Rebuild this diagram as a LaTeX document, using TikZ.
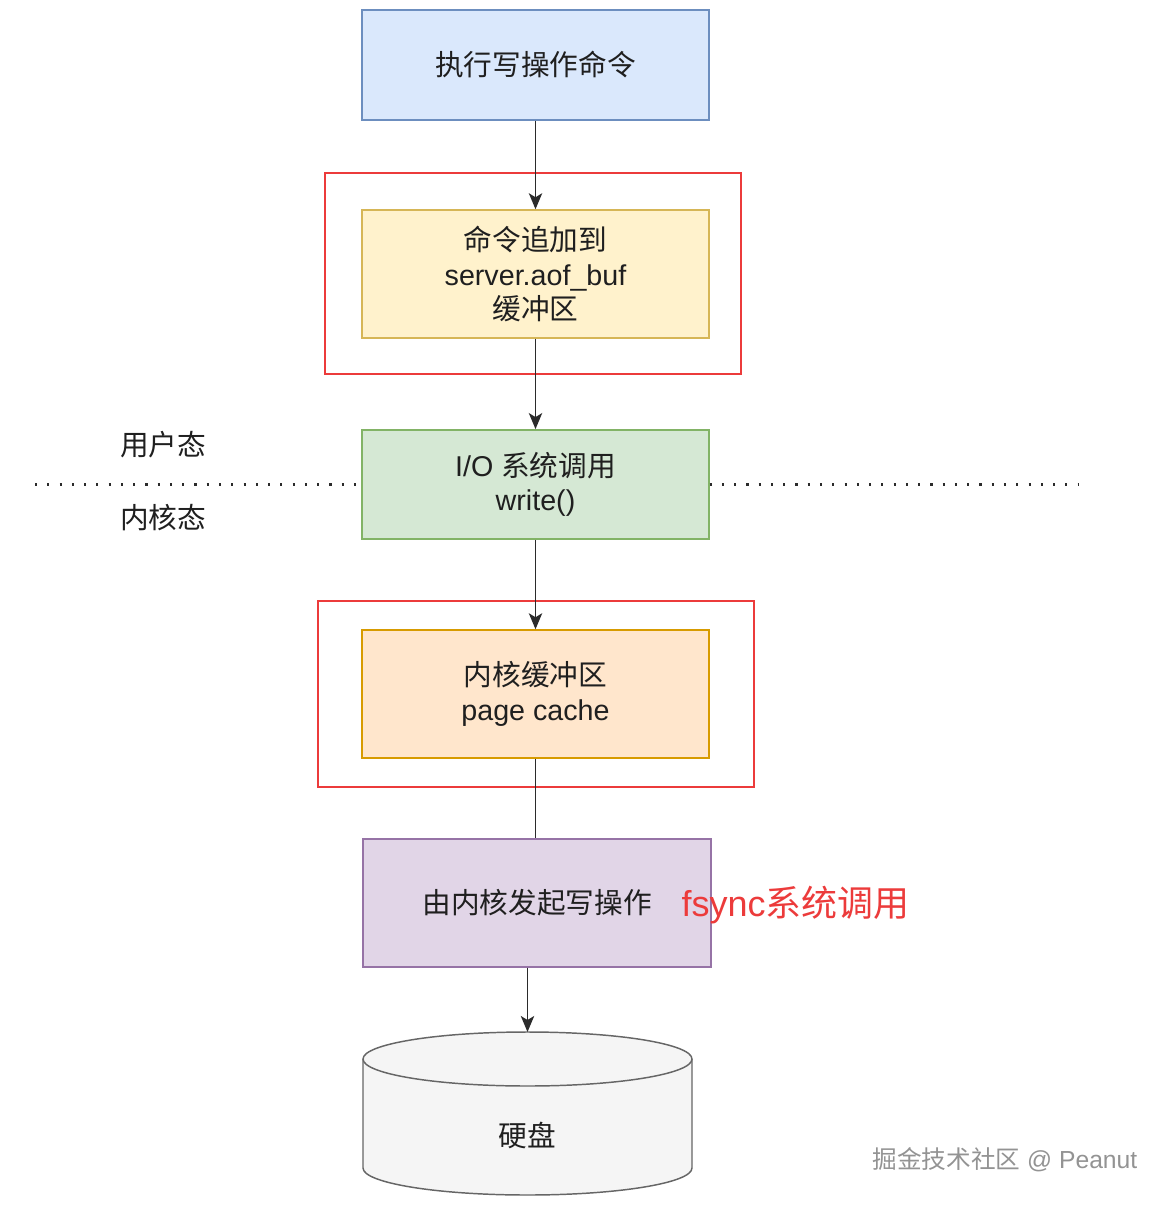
\documentclass[tikz,border=0pt]{standalone}
\usepackage{fontspec}
\setmainfont{Liberation Sans}
\newfontfamily\cjk{Noto Sans CJK SC}
\usetikzlibrary{arrows.meta}

\definecolor{inkc}{HTML}{1F1F1F}
\definecolor{linec}{HTML}{2B2B2B}
\definecolor{redc}{HTML}{EC3B3B}
\definecolor{bluef}{HTML}{DAE8FC}\definecolor{blued}{HTML}{6C8EBF}
\definecolor{yellowf}{HTML}{FFF2CC}\definecolor{yellowd}{HTML}{D6B656}
\definecolor{greenf}{HTML}{D5E8D4}\definecolor{greend}{HTML}{82B366}
\definecolor{orangef}{HTML}{FFE6CC}\definecolor{oranged}{HTML}{D79B00}
\definecolor{purplef}{HTML}{E1D5E7}\definecolor{purpled}{HTML}{9673A6}
\definecolor{diskf}{HTML}{F5F5F5}\definecolor{diskd}{HTML}{666666}

\begin{document}
\begin{tikzpicture}[x=0.75pt,y=-0.75pt,
    stepbox/.style={draw, line width=1.1pt, minimum width=260pt, align=center,
      text=inkc, font=\fontsize{21.5}{26}\selectfont, inner sep=0pt},
    arrow/.style={draw=linec, line width=1.3pt, -{Stealth[length=12pt,width=10pt,inset=3pt]}},
    plain/.style={draw=linec, line width=1.3pt},
    redbox/.style={draw=redc, line width=1.6pt},
    dotline/.style={draw=linec, line width=2.4pt, dash pattern=on 1.6pt off 7.6pt}]

  \useasboundingbox (0,0) rectangle (1172,1205);

  \begin{scope}[every node/.style={stepbox}]
    \node[fill=bluef, draw=blued, minimum height=82.5pt] (cmd) at (535.5,65) {\cjk 执行写操作命令};
    \node[fill=yellowf, draw=yellowd, minimum height=96pt] (buf) at (535.5,274)
      {{\cjk 命令追加到}\\server.aof\_buf\\{\cjk 缓冲区}};
    \node[fill=greenf, draw=greend, minimum height=82pt] (io) at (535.5,484.5)
      {I/O {\cjk 系统调用}\\write()};
    \node[fill=orangef, draw=oranged, minimum height=96pt] (cache) at (535.5,694)
      {{\cjk 内核缓冲区}\\page cache};
    \node[fill=purplef, draw=purpled, minimum width=261pt, minimum height=96pt] (kwrite) at (537,903)
      {\cjk 由内核发起写操作};
  \end{scope}

  % red frames round the two buffers
  \draw[redbox] (325,173) rectangle (741,374);
  \draw[redbox] (318,601) rectangle (754,787);

  % user / kernel boundary
  \coordinate (dotL) at (35,484.5);
  \coordinate (dotR) at (1078,484.5);
  \draw[dotline] (dotL) -- (io.west);
  \draw[dotline] (io.east) -- (dotR);
  \begin{scope}[every node/.style={text=inkc, font=\cjk\fontsize{21.5}{26}\selectfont}]
    \node (user) at (163,445) {用户态};
    \node (kernel) at (163,518) {内核态};
  \end{scope}

  % disk
  \draw[fill=diskf, draw=diskd, line width=1.1pt] (363,1059) -- (363,1168)
    arc[start angle=180, end angle=360, x radius=123.375pt, y radius=20.25pt]
    -- (692,1059)
    arc[start angle=0, end angle=180, x radius=123.375pt, y radius=20.25pt] -- cycle;
  \draw[draw=diskd, line width=1.1pt] (363,1059)
    arc[start angle=180, end angle=360, x radius=123.375pt, y radius=20.25pt];
  \coordinate (disktop) at (527.5,1032);
  \node[text=inkc, font=\cjk\fontsize{21.5}{26}\selectfont] (disk) at (527.5,1135) {硬盘};

  \path[arrow] (cmd) -- (buf);
  \path[arrow] (buf) -- (io);
  \path[arrow] (io) -- (cache);
  \path[plain] (cache.south) -- (cache.south |- kwrite.north);
  \path[arrow] (kwrite.south -| disktop) -- (disktop);

  \node[anchor=west, text=redc, font=\fontsize{27}{30}\selectfont] (fsync) at (677,905)
    {fsync{\cjk 系统调用}};
  \node[anchor=east, text=gray!85, font=\fontsize{18.5}{22}\selectfont] (mark) at (1142,1160)
    {{\cjk 掘金技术社区} @ Peanut};

\end{tikzpicture}
\end{document}
